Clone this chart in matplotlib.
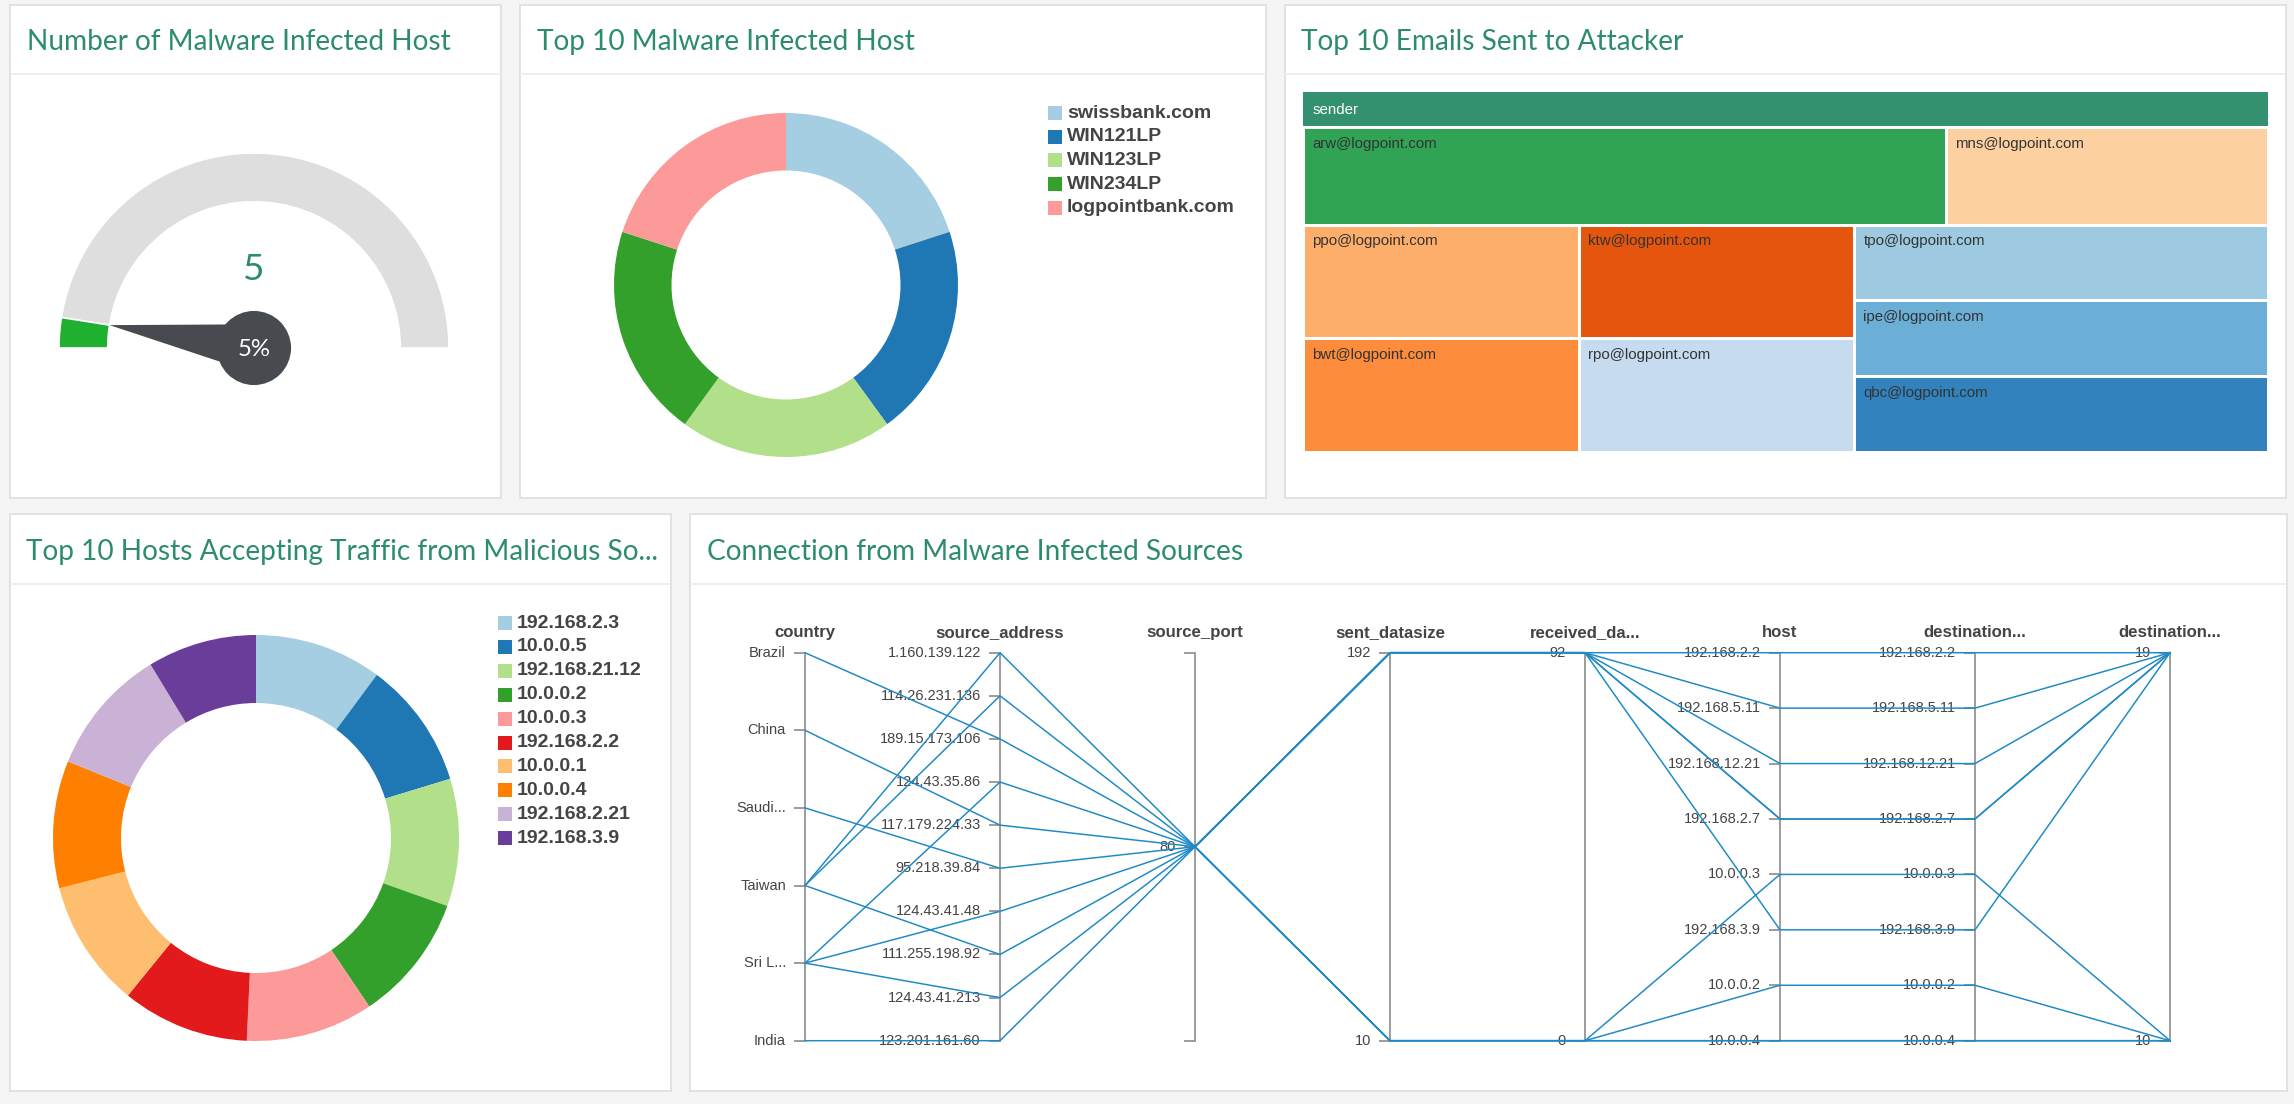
import matplotlib
matplotlib.use('Agg')
import matplotlib.pyplot as plt
from matplotlib.patches import Rectangle, Wedge, Polygon, Circle
import numpy as np

# ---------------- data ----------------
gauge_value = 5
gauge_max = 100

hosts1_labels = ['swissbank.com', 'WIN121LP', 'WIN123LP', 'WIN234LP', 'logpointbank.com']
hosts1_counts = [1, 1, 1, 1, 1]

email_senders = ['arw@logpoint.com', 'mns@logpoint.com', 'ppo@logpoint.com', 'bwt@logpoint.com',
                 'ktw@logpoint.com', 'rpo@logpoint.com', 'tpo@logpoint.com', 'ipe@logpoint.com',
                 'qbc@logpoint.com']
email_counts = [2, 1, 1, 1, 1, 1, 1, 1, 1]

hosts2_labels = ['192.168.2.3', '10.0.0.5', '192.168.21.12', '10.0.0.2', '10.0.0.3',
                 '192.168.2.2', '10.0.0.1', '10.0.0.4', '192.168.2.21', '192.168.3.9']
hosts2_counts = [7, 7, 7, 7, 7, 7, 7, 7, 7, 6]

pc_headers = ['country', 'source_address', 'source_port', 'sent_datasize',
              'received_da...', 'host', 'destination...', 'destination...']
country_ticks = ['Brazil', 'China', 'Saudi...', 'Taiwan', 'Sri L...', 'India']
source_ticks = ['1.160.139.122', '114.26.231.136', '189.15.173.106', '124.43.35.86',
                '117.179.224.33', '95.218.39.84', '124.43.41.48', '111.255.198.92',
                '124.43.41.213', '123.201.161.60']
host_ticks = ['192.168.2.2', '192.168.5.11', '192.168.12.21', '192.168.2.7', '10.0.0.3',
              '192.168.3.9', '10.0.0.2', '10.0.0.4']
dest_ticks = ['192.168.2.2', '192.168.5.11', '192.168.12.21', '192.168.2.7', '10.0.0.3',
              '192.168.3.9', '10.0.0.2', '10.0.0.4']

rec_country = ['Taiwan', 'Taiwan', 'Brazil', 'Sri L...', 'China', 'Saudi...', 'Sri L...',
               'Taiwan', 'Sri L...', 'India']
rec_source = ['1.160.139.122', '114.26.231.136', '189.15.173.106', '124.43.35.86',
              '117.179.224.33', '95.218.39.84', '124.43.41.48', '111.255.198.92',
              '124.43.41.213', '123.201.161.60']
rec_port = [80, 80, 80, 80, 80, 80, 80, 80, 80, 80]
rec_sent = [192, 192, 192, 192, 192, 192, 10, 10, 10, 10]
rec_recv = [92, 92, 92, 92, 92, 92, 0, 0, 0, 0]
rec_host = ['192.168.2.2', '192.168.5.11', '192.168.12.21', '192.168.2.7', '192.168.2.7',
            '192.168.3.9', '10.0.0.3', '10.0.0.2', '10.0.0.4', '10.0.0.4']
rec_dest = ['192.168.2.2', '192.168.5.11', '192.168.12.21', '192.168.2.7', '192.168.2.7',
            '192.168.3.9', '10.0.0.3', '10.0.0.2', '10.0.0.4', '10.0.0.4']
rec_dport = [19, 19, 19, 19, 19, 19, 10, 10, 10, 10]

# ---------------- style ----------------
paired = ['#a6cee3', '#1f78b4', '#b2df8a', '#33a02c', '#fb9a99',
          '#e31a1c', '#fdbf6f', '#ff7f00', '#cab2d6', '#6a3d9a']
cat20c = ['#31a354', '#fdd0a2', '#fdae6b', '#fd8d3c', '#e6550d',
          '#c6dbef', '#9ecae1', '#6baed6', '#3182bd']
TEAL = '#2c8c6c'
TXT = '#444444'
LINE_BLUE = '#1f8ac6'
AX_GRAY = '#9e9e9e'

W, H, DPI = 2294, 1104, 100
PT = 72.0 / DPI  # points per pixel
fig = plt.figure(figsize=(W / DPI, H / DPI), dpi=DPI, facecolor='#f5f5f5')


def px_axes(x0, y0, x1, y1):
    return fig.add_axes([x0 / W, 1 - y1 / H, (x1 - x0) / W, (y1 - y0) / H])


base = px_axes(0, 0, W, H)
base.set_xlim(0, W)
base.set_ylim(H, 0)
base.axis('off')

# panels
panels = [
    (10, 5, 501, 498, 74, 'Number of Malware Infected Host', 27, 42),
    (520, 5, 1266, 498, 74, 'Top 10 Malware Infected Host', 537, 42),
    (1285, 5, 2286, 498, 74, 'Top 10 Emails Sent to Attacker', 1301, 42),
    (10, 514, 671, 1091, 584, 'Top 10 Hosts Accepting Traffic from Malicious So...', 26, 552),
    (690, 514, 2287, 1091, 584, 'Connection from Malware Infected Sources', 707, 552),
]
for x0, y0, x1, y1, sep, title, tx, ty in panels:
    base.add_patch(Rectangle((x0, y0), x1 - x0, y1 - y0, facecolor='white',
                             edgecolor='#e2e2e2', lw=2 * PT, zorder=0))
    base.plot([x0 + 1, x1 - 1], [sep, sep], color='#eeeeee', lw=2 * PT, zorder=1)
    base.text(tx, ty, title, fontsize=28 * PT, color=TEAL, family=['Lato', 'DejaVu Sans'],
              ha='left', va='center', zorder=2)

# ---------------- gauge ----------------
gx, gy, gr = 254, 348, 195
gax = px_axes(gx - 1.2 * gr, gy - 1.2 * gr, gx + 1.2 * gr, gy + 1.2 * gr)
gax.set_xlim(-1.2, 1.2)
gax.set_ylim(-1.2, 1.2)
gax.set_aspect('equal')
gax.axis('off')
frac = gauge_value / gauge_max
ang = 180 - 180 * frac
gax.add_patch(Wedge((0, 0), 1, 0, ang, width=0.25, facecolor='#dedede', edgecolor='white', lw=1.2))
gax.add_patch(Wedge((0, 0), 1, ang, 180, width=0.25, facecolor='#1fb02f', edgecolor='white', lw=1.2))
a = np.deg2rad(ang)
d = np.array([np.cos(a), np.sin(a)])
p = np.array([-d[1], d[0]])
tip = 0.75 * d
gax.add_patch(Polygon([tip, 0.123 * p, -0.123 * p], closed=True, facecolor='#474a4f', edgecolor='none'))
gax.add_patch(Circle((0, 0), 0.19, facecolor='#474a4f', edgecolor='none'))
gax.text(0, 0.40, f'{gauge_value}', fontsize=37 * PT, color=TEAL, family=['Lato', 'DejaVu Sans'],
         ha='center', va='center')
gax.text(0, -0.01, f'{round(frac * 100)}%', fontsize=24 * PT, color='white',
         family=['Lato', 'DejaVu Sans'], ha='center', va='center')


# ---------------- donuts ----------------
def donut(cx, cy, R, inner, values, colors):
    ax = px_axes(cx - R, cy - R, cx + R, cy + R)
    ax.pie(values, colors=colors, radius=1, startangle=90, counterclock=False,
           wedgeprops=dict(width=1 - inner / R, linewidth=0))
    ax.set_xlim(-1, 1)
    ax.set_ylim(-1, 1)
    ax.set_aspect('equal')
    ax.axis('off')


def legend(sx, y0, step, labels, colors):
    for i, (lab, col) in enumerate(zip(labels, colors)):
        yc = y0 + i * step
        base.add_patch(Rectangle((sx, yc - 7), 14, 14, facecolor=col, edgecolor='none', zorder=3))
        base.text(sx + 19, yc, lab, fontsize=19.5 * PT, fontweight='bold', color=TXT,
                  family=['Liberation Sans', 'DejaVu Sans'], ha='left', va='center', zorder=3)


donut(786, 285, 172, 114.5, hosts1_counts, paired[:len(hosts1_counts)])
legend(1048, 113, 23.7, hosts1_labels, paired[:len(hosts1_labels)])

donut(256, 838, 203, 135, hosts2_counts, paired[:len(hosts2_counts)])
legend(498, 623, 23.9, hosts2_labels, paired[:len(hosts2_labels)])


# ---------------- treemap (d3 v3 squarify) ----------------
def squarify(values, ratio):
    total = float(sum(values))
    items = [dict(i=i, area=v / total) for i, v in enumerate(values)]
    rect = dict(x=0.0, y=0.0, dx=1.0, dy=1.0)
    out = {}

    def worst(row, s, u):
        areas = [o['area'] for o in row]
        s2, u2 = s * s, u * u
        return max(u2 * max(areas) * ratio / s2, s2 / (u2 * min(areas) * ratio))

    def position(row, area, u, flush):
        x, y = rect['x'], rect['y']
        v = area / u if u else 0
        if u == rect['dx']:
            if flush or v > rect['dy']:
                v = rect['dy']
            last = None
            for o in row:
                w = min(rect['x'] + rect['dx'] - x, o['area'] / v if v else 0)
                out[o['i']] = [x, y, w, v]
                x += w
                last = o['i']
            out[last][2] += rect['x'] + rect['dx'] - x
            rect['y'] += v
            rect['dy'] -= v
        else:
            if flush or v > rect['dx']:
                v = rect['dx']
            last = None
            for o in row:
                h = min(rect['y'] + rect['dy'] - y, o['area'] / v if v else 0)
                out[o['i']] = [x, y, v, h]
                y += h
                last = o['i']
            out[last][3] += rect['y'] + rect['dy'] - y
            rect['x'] += v
            rect['dx'] -= v

    queue = items[:]
    row, row_area, best = [], 0.0, np.inf
    u = min(rect['dx'], rect['dy'])
    while queue:
        child = queue[0]
        row.append(child)
        row_area += child['area']
        score = worst(row, row_area, u)
        if score <= best:
            queue.pop(0)
            best = score
        else:
            row.pop()
            row_area -= child['area']
            position(row, row_area, u, False)
            u = min(rect['dx'], rect['dy'])
            row, row_area, best = [], 0.0, np.inf
    if row:
        position(row, row_area, u, True)
    return [out[i] for i in range(len(values))]


tx0, ty0, tx1, ty1 = 1303, 127, 2268, 452
base.add_patch(Rectangle((tx0, 92), tx1 - tx0, ty0 - 92, facecolor='#34916f', edgecolor='none', zorder=2))
base.text(tx0 + 10, 110, 'sender', fontsize=15 * PT, color='white',
          family=['Liberation Sans', 'DejaVu Sans'], ha='left', va='center', zorder=3)
ratio = (ty1 - ty0) / (tx1 - tx0) * 0.5 * (1 + np.sqrt(5))
cells = squarify(email_counts, ratio)
for (cx, cy, cw, ch), name, col in zip(cells, email_senders, cat20c):
    X = tx0 + cx * (tx1 - tx0)
    Y = ty0 + cy * (ty1 - ty0)
    Wd = cw * (tx1 - tx0)
    Ht = ch * (ty1 - ty0)
    base.add_patch(Rectangle((X, Y), Wd, Ht, facecolor=col, edgecolor='white', lw=3 * PT, zorder=2))
    base.text(X + 9, Y + 17, name, fontsize=15 * PT, color='#333333',
              family=['Liberation Sans', 'DejaVu Sans'], ha='left', va='center', zorder=3)

# ---------------- parallel coordinates ----------------
px0, py0, px1, py1 = 805, 652.7, 2170, 1040.7
pax = px_axes(px0, py0, px1, py1)
n_axes = len(pc_headers)
pax.set_xlim(0, n_axes - 1)
pax.set_ylim(1, 0)
pax.axis('off')
ux = (n_axes - 1) / (px1 - px0)   # data units per px (x)
uy = 1.0 / (py1 - py0)            # data units per px (y)


def cat_pos(ticks):
    n = len(ticks)
    return {t: (i / (n - 1) if n > 1 else 0.5) for i, t in enumerate(ticks)}


def num_pos(vals):
    lo, hi = min(vals), max(vals)
    if hi == lo:
        return {lo: 0.5}
    return {v: (hi - v) / (hi - lo) for v in sorted(set(vals))}


columns = [rec_country, rec_source, rec_port, rec_sent, rec_recv, rec_host, rec_dest, rec_dport]
scales = [cat_pos(country_ticks), cat_pos(source_ticks), num_pos(rec_port), num_pos(rec_sent),
          num_pos(rec_recv), cat_pos(host_ticks), cat_pos(dest_ticks), num_pos(rec_dport)]

for k, (hdr, sc) in enumerate(zip(pc_headers, scales)):
    pax.plot([k, k], [0, 1], color=AX_GRAY, lw=2 * PT, zorder=2, clip_on=False)
    for yy in (0, 1):
        pax.plot([k - 10 * ux, k], [yy, yy], color=AX_GRAY, lw=2 * PT, zorder=2, clip_on=False)
    for lab, yy in sc.items():
        pax.plot([k - 10 * ux, k], [yy, yy], color=AX_GRAY, lw=2 * PT, zorder=2, clip_on=False)
        pax.text(k - 19 * ux, yy, str(lab), fontsize=14.6 * PT, color=TXT,
                 family=['Liberation Sans', 'DejaVu Sans'], ha='right', va='center', zorder=3)
    pax.text(k, -20.5 * uy, hdr, fontsize=16.8 * PT, fontweight='bold', color=TXT,
             family=['Liberation Sans', 'DejaVu Sans'], ha='center', va='center', zorder=3)

for r in range(len(rec_country)):
    ys = [scales[k][columns[k][r]] for k in range(n_axes)]
    pax.plot(range(n_axes), ys, color=LINE_BLUE, lw=1.5 * PT, zorder=4, clip_on=False)

fig.savefig('out.png', dpi=DPI, facecolor=fig.get_facecolor())
